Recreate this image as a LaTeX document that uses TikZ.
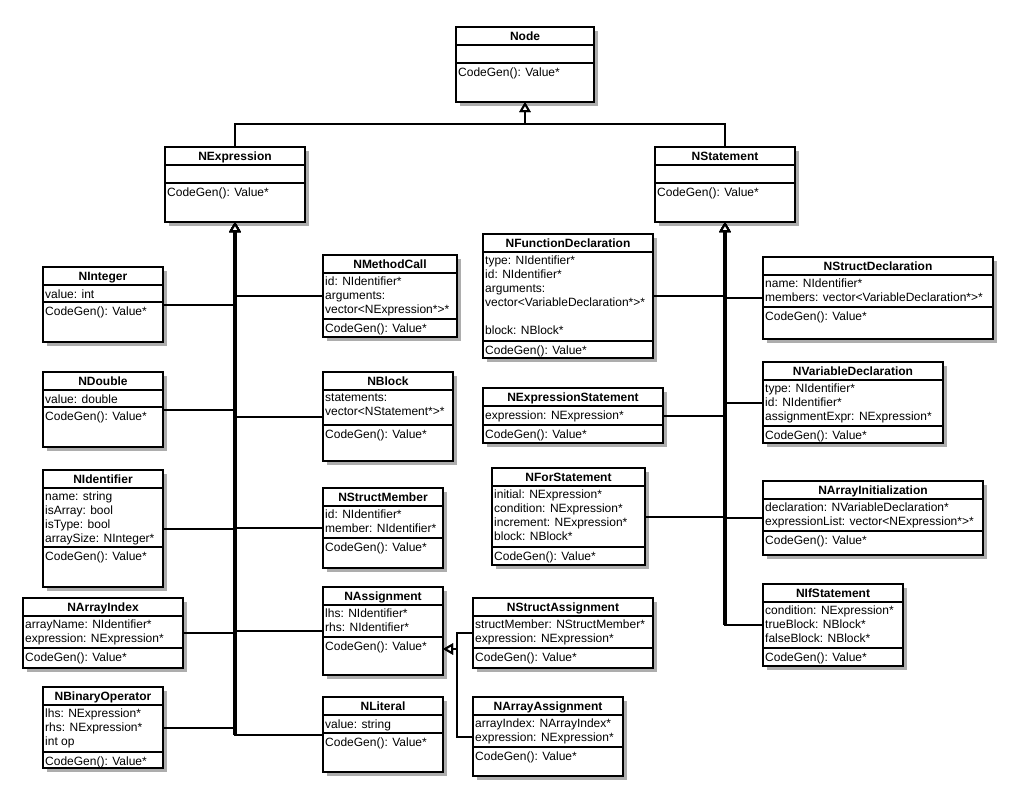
\documentclass[tikz,border=0pt]{standalone}
\usepackage{fontspec}
\setmainfont{Liberation Sans}
\usetikzlibrary{arrows.meta, calc}

% class box: name, left, top, right, bottom, methods line, title, attributes, methods
\newcommand{\umlclass}[9]{%
  \path[shadowfill] ({#2+4},{#3+4}) rectangle ({#4+4},{#5+4});
  \node[classbox, minimum width={#4pt-#2pt}, minimum height={#5pt-#3pt}] (#1) at (#2,#3) {};
  \draw[sepline] (#2,{#3+18}) -- (#4,{#3+18});
  \draw[sepline] (#2,#6) -- (#4,#6);
  \node[titletext] (#1-title) at ({(#2+#4)/2},{#3+13}) {#7};
  \node[membertext] (#1-attr) at (#2,{#3+18}) {#8};
  \node[membertext] (#1-meth) at (#2,#6) {#9};
}

\begin{document}
\begin{tikzpicture}[x=1pt, y=-1pt,
    shadowfill/.style={fill=black!32},
    classbox/.style={draw, line width=2pt, fill=white, inner sep=0pt, outer sep=0pt, anchor=north west},
    sepline/.style={line width=1.8pt},
    titletext/.style={anchor=base, inner sep=0pt, font=\fontsize{12}{14}\selectfont\bfseries},
    membertext/.style={anchor=north west, align=left, inner xsep=2pt, inner ysep=3.5pt,
      font=\fontsize{12}{14}\selectfont, execute at begin node=\strut},
    inherit/.style={line width=2pt, -{Triangle[length=10pt, width=11pt, fill=white]}},
    trunk/.style={line width=3.2pt}]
    \useasboundingbox (0,0) rectangle (1013,795);

    % Root and the two base classes
    \umlclass{Node}{456}{27}{594}{102}{63}{Node}{}{CodeGen(): Value*}
    \umlclass{NExpression}{165}{147}{305}{222}{183}{NExpression}{}{CodeGen(): Value*}
    \umlclass{NStatement}{655}{147}{795}{222}{183}{NStatement}{}{CodeGen(): Value*}

    % Expressions, left column
    \umlclass{NInteger}{43}{267}{163}{342}{302}{NInteger}{value: int}{CodeGen(): Value*}
    \umlclass{NDouble}{43}{372}{163}{447}{407}{NDouble}{value: double}{CodeGen(): Value*}
    \umlclass{NIdentifier}{43}{470}{163}{587}{547}{NIdentifier}{name: string\\ isArray: bool\\ isType: bool\\ arraySize: NInteger*}{CodeGen(): Value*}
    \umlclass{NArrayIndex}{23}{598}{183}{668}{648}{NArrayIndex}{arrayName: NIdentifier*\\ expression: NExpression*}{CodeGen(): Value*}
    \umlclass{NBinaryOperator}{43}{687}{163}{768}{752}{NBinaryOperator}{lhs: NExpression*\\ rhs: NExpression*\\ int op}{CodeGen(): Value*}

    % Expressions, right column
    \umlclass{NMethodCall}{323}{255}{457}{337}{319}{NMethodCall}{id: NIdentifier*\\ arguments:\\ vector<NExpression*>*}{CodeGen(): Value*}
    \umlclass{NBlock}{323}{372}{453}{461}{425}{NBlock}{statements:\\ vector<NStatement*>*}{CodeGen(): Value*}
    \umlclass{NStructMember}{323}{488}{443}{568}{538}{NStructMember}{id: NIdentifier*\\ member: NIdentifier*}{CodeGen(): Value*}
    \umlclass{NAssignment}{323}{587}{443}{675}{637}{NAssignment}{lhs: NIdentifier*\\ rhs: NIdentifier*}{CodeGen(): Value*}
    \umlclass{NLiteral}{323}{697}{443}{772}{733}{NLiteral}{value: string}{CodeGen(): Value*}

    % Assignments
    \umlclass{NStructAssignment}{473}{598}{653}{668}{648}{NStructAssignment}{structMember: NStructMember*\\ expression: NExpression*}{CodeGen(): Value*}
    \umlclass{NArrayAssignment}{473}{697}{623}{776}{747}{NArrayAssignment}{arrayIndex: NArrayIndex*\\ expression: NExpression*}{CodeGen(): Value*}

    % Statements, left column
    \umlclass{NFunctionDeclaration}{483}{234}{653}{358}{341}{NFunctionDeclaration}{type: NIdentifier*\\ id: NIdentifier*\\ arguments:\\ vector<VariableDeclaration*>*\\ \mbox{}\\ block: NBlock*}{CodeGen(): Value*}
    \umlclass{NExpressionStatement}{483}{388}{663}{443}{425}{NExpressionStatement}{expression: NExpression*}{CodeGen(): Value*}
    \umlclass{NForStatement}{492}{468}{645}{565}{547}{NForStatement}{initial: NExpression*\\ condition: NExpression*\\ increment: NExpression*\\ block: NBlock*}{CodeGen(): Value*}

    % Statements, right column
    \umlclass{NStructDeclaration}{763}{257}{993}{339}{307}{NStructDeclaration}{name: NIdentifier*\\ members: vector<VariableDeclaration*>*}{CodeGen(): Value*}
    \umlclass{NVariableDeclaration}{763}{362}{943}{443}{426}{NVariableDeclaration}{type: NIdentifier*\\ id: NIdentifier*\\ assignmentExpr: NExpression*}{CodeGen(): Value*}
    \umlclass{NArrayInitialization}{763}{481}{983}{555}{531}{NArrayInitialization}{declaration: NVariableDeclaration*\\ expressionList: vector<NExpression*>*}{CodeGen(): Value*}
    \umlclass{NIfStatement}{763}{584}{903}{666}{648}{NIfStatement}{condition: NExpression*\\ trueBlock: NBlock*\\ falseBlock: NBlock*}{CodeGen(): Value*}

    % Shared trunks
    \draw[trunk] ($(NExpression.south)+(0,10)$) -- (NExpression.south |- NLiteral.west);
    \draw[trunk] ($(NStatement.south)+(0,10)$) -- (NStatement.south |- NIfStatement.west);

    % Inheritance from Node
    \coordinate (nodehub) at ($(Node.south)+(0,22)$);
    \draw[inherit] (NExpression.north) |- (nodehub) -- (Node.south);
    \draw[inherit] (NStatement.north) |- (nodehub) -- (Node.south);

    % Inheritance from NExpression
    \foreach \cls in {NInteger, NDouble, NIdentifier, NArrayIndex, NBinaryOperator}
        \draw[inherit] (\cls.east) -| (NExpression.south);
    \foreach \cls in {NMethodCall, NBlock, NStructMember, NAssignment, NLiteral}
        \draw[inherit] (\cls.west) -| (NExpression.south);

    % Inheritance from NStatement
    \foreach \cls in {NFunctionDeclaration, NExpressionStatement, NForStatement}
        \draw[inherit] (\cls.east) -| (NStatement.south);
    \foreach \cls in {NStructDeclaration, NVariableDeclaration, NArrayInitialization, NIfStatement}
        \draw[inherit] (\cls.west) -| (NStatement.south);

    % Inheritance from NAssignment
    \coordinate (asgnin) at ($(NAssignment.east)+(0,18)$);
    \coordinate (asgnbus) at ($(asgnin)+(14,0)$);
    \draw[inherit] (NStructAssignment.west) -| (asgnbus) -- (asgnin);
    \draw[inherit] (NArrayAssignment.west) -| (asgnbus) -- (asgnin);
\end{tikzpicture}
\end{document}
